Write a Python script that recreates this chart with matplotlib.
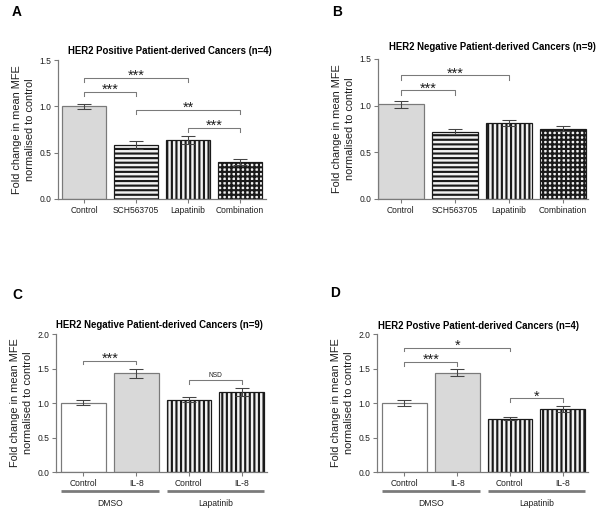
import matplotlib
matplotlib.use("Agg")
import matplotlib.pyplot as plt
import matplotlib.transforms as mtransforms

plt.rcParams['font.family'] = ['Liberation Sans', 'DejaVu Sans']
plt.rcParams['hatch.linewidth'] = 1.4

# panel A / B : four treatments
ab_labels = ['Control', 'SCH563705', 'Lapatinib', 'Combination']
a_means = [1.0, 0.58, 0.638, 0.40]
a_errs = [0.03, 0.042, 0.04, 0.035]
b_means = [1.015, 0.722, 0.813, 0.752]
b_errs = [0.035, 0.025, 0.03, 0.028]

# panel C / D : IL-8 with / without lapatinib
cd_labels = ['Control', 'IL-8', 'Control', 'IL-8']
cd_groups = ['DMSO', 'Lapatinib']
c_means = [1.005, 1.43, 1.05, 1.155]
c_errs = [0.035, 0.065, 0.04, 0.058]
d_means = [1.0, 1.44, 0.77, 0.915]
d_errs = [0.047, 0.048, 0.02, 0.045]

# significance brackets: (bar1, bar2, height, text)
a_sig = [(0, 2, 1.305, '***'), (0, 1, 1.154, '***'), (1, 3, 0.963, '**'), (2, 3, 0.765, '***')]
b_sig = [(0, 2, 1.325, '***'), (0, 1, 1.164, '***')]
c_sig = [(0, 1, 1.615, '***'), (2, 3, 1.327, 'NSD')]
d_sig = [(0, 2, 1.80, '*'), (0, 1, 1.59, '***'), (2, 3, 1.067, '*')]

W, H = 600, 510
fig = plt.figure(figsize=(W / 110, H / 110), dpi=110)

GRAY = '#7a7a7a'
TXT = '#1e1e1e'


def make_axes(l, r, top, bottom):
    return fig.add_axes([l / W, 1 - bottom / H, (r - l) / W, (bottom - top) / H])


def style(ax, ymax, labels, xlim):
    for s in ['top', 'right']:
        ax.spines[s].set_visible(False)
    for s in ['left', 'bottom']:
        ax.spines[s].set_color(GRAY)
        ax.spines[s].set_linewidth(0.8)
    ax.set_xlim(*xlim)
    ax.set_ylim(0, ymax)
    ax.set_xticks(range(len(labels)))
    ax.set_xticklabels(labels)
    ticks = [0, 0.5, 1.0, 1.5] if ymax == 1.5 else [0, 0.5, 1.0, 1.5, 2.0]
    ax.set_yticks(ticks)
    ax.set_yticklabels(['%.1f' % t for t in ticks])
    ax.tick_params(axis='both', labelsize=5.6, colors=GRAY, labelcolor=TXT,
                   length=2.5, width=0.7, pad=2)
    ax.set_ylabel('Fold change in mean MFE\nnormalised to control', fontsize=7.2,
                  color=TXT, labelpad=3, linespacing=1.35)


def draw_bars(ax, means, errs, fills, hatches):
    x = list(range(len(means)))
    for i in x:
        if hatches[i]:
            ax.bar(i, means[i], width=0.85, color=fills[i], edgecolor='#1a1a1a',
                   hatch=hatches[i], linewidth=0.8, zorder=2)
        else:
            ax.bar(i, means[i], width=0.85, color=fills[i], edgecolor=GRAY,
                   linewidth=0.8, zorder=2)
    ax.errorbar(x, means, yerr=errs, fmt='none', ecolor='#444444', elinewidth=0.7,
                capsize=4.5, capthick=0.7, zorder=3)


def brackets(ax, sig, h):
    for x1, x2, y, txt in sig:
        ax.plot([x1, x1, x2, x2], [y - h, y, y, y - h], color=GRAY, lw=0.7,
                clip_on=False, zorder=4)
        if txt == 'NSD':
            ax.annotate(txt, ((x1 + x2) / 2, y), xytext=(0, 1.2), textcoords='offset points',
                        ha='center', va='bottom', fontsize=4.3, color=TXT)
        else:
            ax.annotate(txt, ((x1 + x2) / 2, y), xytext=(0, -1.3), textcoords='offset points',
                        ha='center', va='baseline', fontsize=9.5, color=TXT)


def groups(ax, names):
    trans = mtransforms.blended_transform_factory(ax.transData, ax.transAxes)
    for k, name in enumerate(names):
        x0 = 2 * k - 0.425
        x1 = 2 * k + 1.425
        ax.plot([x0, x1], [-0.138, -0.138], color=GRAY, lw=1.8, transform=trans,
                clip_on=False, solid_capstyle='butt')
        ax.text((x0 + x1) / 2, -0.225, name, ha='center', va='center', fontsize=5.6,
                color=TXT, transform=trans)


ab_fills = ['#d9d9d9', '#f2f2f2', '#f2f2f2', '#f2f2f2']
ab_hatch = [None, '----', '||||', '++++']
cd_fills = ['white', '#d9d9d9', '#f2f2f2', '#f2f2f2']
cd_hatch = [None, None, '||||', '||||']

# A
axA = make_axes(58, 266, 60, 199)
draw_bars(axA, a_means, a_errs, ab_fills, ab_hatch)
style(axA, 1.5, ab_labels, (-0.5, 3.5))
brackets(axA, a_sig, 0.045)
axA.set_title('HER2 Positive Patient-derived Cancers (n=4)', fontsize=6.3,
              fontweight='bold', x=0.54, pad=4)

# B
axB = make_axes(378, 588, 59, 199)
draw_bars(axB, b_means, b_errs, ab_fills, ab_hatch)
style(axB, 1.5, ab_labels, (-0.42, 3.46))
brackets(axB, b_sig, 0.045)
axB.set_title('HER2 Negative Patient-derived Cancers (n=9)', fontsize=6.3,
              fontweight='bold', x=0.545, pad=6)

# C
axC = make_axes(56, 267, 334, 472)
draw_bars(axC, c_means, c_errs, cd_fills, cd_hatch)
style(axC, 2.0, cd_labels, (-0.52, 3.48))
brackets(axC, c_sig, 0.055)
groups(axC, cd_groups)
axC.set_title('HER2 Negative Patient-derived Cancers (n=9)', fontsize=6.3,
              fontweight='bold', x=0.49, pad=4)

# D
axD = make_axes(377, 588, 334, 472)
draw_bars(axD, d_means, d_errs, cd_fills, cd_hatch)
style(axD, 2.0, cd_labels, (-0.52, 3.48))
brackets(axD, d_sig, 0.05)
groups(axD, cd_groups)
axD.set_title('HER2 Postive Patient-derived Cancers (n=4)', fontsize=6.3,
              fontweight='bold', x=0.48, pad=3)

for letter, px, py in [('A', 17, 12.5), ('B', 337, 12), ('C', 17, 295), ('D', 335, 293)]:
    fig.text(px / W, 1 - py / H, letter, fontsize=9, fontweight='bold',
             ha='center', va='center')

fig.savefig('out.png', dpi=110)
